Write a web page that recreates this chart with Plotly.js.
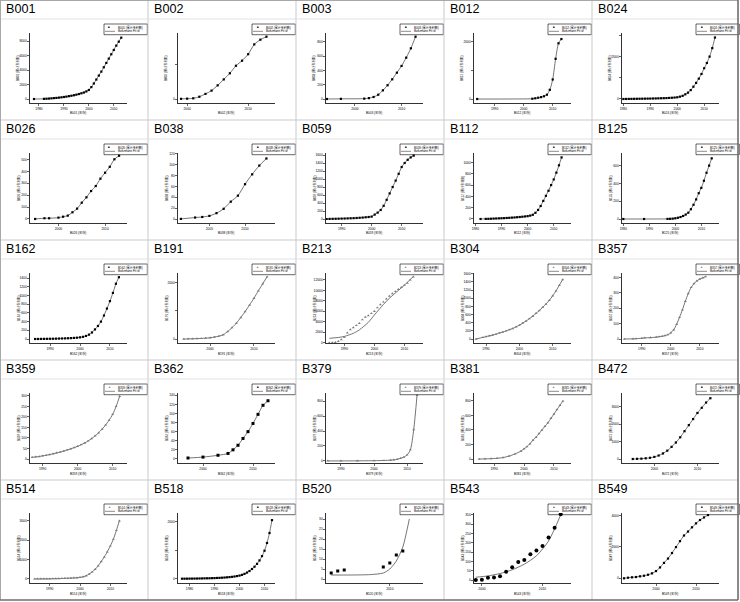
<!DOCTYPE html>
<html><head><meta charset="utf-8">
<script src="https://cdn.plot.ly/plotly-3.0.1.min.js"></script>
<style>html,body{margin:0;padding:0;background:#fff}#chart{width:740px;height:602px}</style>
</head><body><div id="chart"></div>
<script>
// ---------- panel names ----------
const names = ["B001","B002","B003","B012","B024","B026","B038","B059","B112","B125","B162","B191","B213","B304","B357","B359","B362","B379","B381","B472","B514","B518","B520","B543","B549"];
const yTitleSuffix = " (累计专利数)";
const xTitleSuffix = " (年份)";
const fitLabel = "Boltzmann Fit of";

// ---------- data ----------
const B001_x = [1978,1982,1983,1984,1985,1986,1987,1988,1989,1990,1991,1992,1993,1994,1995,1996,1997,1998,1999,2000,2001,2002,2003,2004,2005,2006,2007,2008,2009,2010,2011,2012,2013];
const B001_y = [0,20,40,60,90,120,150,190,230,280,330,390,450,520,600,690,790,900,1050,1250,1650,2150,2700,3250,3800,4400,5000,5600,6200,6800,7400,7950,8500];
const B001_xt = [1980,1990,2000,2010]; const B001_yt = [0,2000,4000,6000,8000];

const B002_x = [1999,2000,2001,2002,2003,2004,2005,2006,2007,2008,2009,2010,2011,2012,2013];
const B002_y = [5,10,20,65,145,240,390,560,735,950,1095,1280,1560,1695,1780];
const B002_xt = [2000,2010]; const B002_yt = [0,1000]; const B002_yl = ["0",""];

const B003_x = [1994,1997,2002,2003,2004,2005,2006,2007,2008,2009,2010,2011,2012,2013];
const B003_y = [0,2,5,12,28,60,121,192,275,368,462,578,709,871];
const B003_xt = [2000,2010]; const B003_yt = [0,200,400,600,800];

const B012_x = [1984,2003,2004,2005,2006,2007,2008,2009,2010,2011,2012,2013];
const B012_y = [0,10,25,45,65,95,150,320,680,1400,1940,2090];
const B012_xt = [1990,2000,2010]; const B012_yt = [0,1000,2000]; const B012_yl = ["0","","2000"];

const B024_x = [1980,1981,1982,1983,1984,1985,1986,1987,1988,1989,1990,1991,1992,1993,1994,1995,1996,1997,1998,1999,2000,2001,2002,2003,2004,2005,2006,2007,2008,2009,2010,2011,2012,2013,2014];
const B024_y = [0,2,4,6,8,10,12,14,16,18,20,23,26,30,34,38,43,50,58,68,80,110,150,220,300,420,580,760,960,1180,1450,1700,2000,2400,2900];
const B024_xt = [1980,1990,2000,2010]; const B024_yt = [0,1000,2000,3000]; const B024_yl = ["0","","2000",""];

const B026_x = [1995,1997,1998,2000,2001,2002,2003,2004,2005,2006,2007,2008,2009,2010,2011,2012,2013];
const B026_y = [0,6,6,11,19,28,56,87,137,182,235,277,339,389,439,502,532];
const B026_xt = [2000,2010]; const B026_yt = [0,100,200,300,400,500];

const B038_x = [2001,2003,2004,2005,2006,2007,2008,2009,2010,2011,2012,2013];
const B038_y = [0.5,3,4,6,11,19,32,43,64,82,98,111];
const B038_xt = [2005,2010]; const B038_yt = [0,20,40,60,80,100,120];

const B059_x = [1985,1986,1987,1988,1989,1990,1991,1992,1993,1994,1995,1996,1997,1998,1999,2000,2001,2002,2003,2004,2005,2006,2007,2008,2009,2010,2011,2012,2013,2014];
const B059_y = [0,2,4,6,8,10,12,15,18,21,25,30,36,43,50,60,110,160,225,330,480,640,800,960,1130,1300,1400,1480,1540,1585];
const B059_xt = [1990,2000,2010]; const B059_yt = [0,200,400,600,800,1000,1200,1400,1600];

const B112_x = [1982,1984,1985,1986,1987,1988,1989,1990,1991,1992,1993,1994,1995,1996,1997,1998,1999,2000,2001,2002,2003,2004,2005,2006,2007,2008,2009,2010,2011,2012,2013];
const B112_y = [0,2,3,5,7,9,11,13,15,18,21,24,27,31,35,40,45,50,60,75,110,160,230,320,410,500,600,700,820,950,1090];
const B112_xt = [1980,1990,2000,2010]; const B112_yt = [0,200,400,600,800,1000];

const B125_x = [1980,1988,1997,1998,1999,2000,2001,2002,2003,2004,2005,2006,2007,2008,2009,2010,2011,2012,2013,2014];
const B125_y = [0,0,1,2,4,8,14,22,34,50,71,110,160,220,290,350,430,520,600,682];
const B125_xt = [1980,1990,2000,2010]; const B125_yt = [0,200,400,600];

const B162_x = [1985,1986,1987,1988,1989,1990,1991,1992,1993,1994,1995,1996,1997,1998,1999,2000,2001,2002,2003,2004,2005,2006,2007,2008,2009,2010,2011,2012,2013];
const B162_y = [0,1,2,3,4,5,6,8,10,12,14,17,20,25,30,38,50,70,100,150,220,300,400,540,700,870,1060,1270,1420];
const B162_xt = [1990,2000,2010]; const B162_yt = [0,200,400,600,800,1000,1200,1400];

const B191_x = [1994,1995,1996,1997,1998,1999,2000,2001,2002,2003,2004,2005,2006,2007,2008,2009,2010,2011,2012,2013];
const B191_y = [0,5,10,15,20,30,45,70,100,150,260,400,560,760,970,1200,1440,1700,1950,2200];
const B191_xt = [2000,2010]; const B191_yt = [0,1000,2000]; const B191_yl = ["0","","2000"];

const B213_x = [1985,1986,1987,1988,1989,1990,1991,1992,1993,1994,1995,1996,1997,1998,1999,2000,2001,2002,2003,2004,2005,2006,2007,2008,2009,2010,2011,2012,2013];
const B213_y = [0,20,80,250,600,1000,1900,2500,2900,3300,3700,4400,4900,5200,5600,6000,6700,7300,7800,8400,8900,9400,9800,10200,10600,11000,11400,12000,12600];
const B213_fx = [1985,1988,1990,1993,1995,1998,2000,2003,2005,2008,2010,2013];
const B213_fy = [840,1000,1200,1800,2450,3900,5300,7300,8500,10000,11000,12700];
const B213_xt = [1990,2000,2010]; const B213_yt = [0,2000,4000,6000,8000,10000,12000];

const B304_x = [1987,1989,1990,1991,1992,1993,1994,1995,1996,1997,1998,1999,2000,2001,2002,2003,2004,2005,2006,2007,2008,2009,2010,2011,2012,2013];
const B304_y = [0,40,60,80,100,120,150,170,200,230,260,300,340,390,440,500,560,630,700,780,860,950,1060,1180,1320,1460];
const B304_xt = [1990,2000,2010]; const B304_yt = [0,200,400,600,800,1000,1200,1400,1600];

const B357_x = [1984,1987,1988,1990,1991,1993,1995,1996,1997,1998,1999,2000,2001,2002,2003,2004,2005,2006,2007,2008,2009,2010,2011,2012];
const B357_y = [0,1,2,5,7,9,12,15,18,22,28,40,60,95,140,190,245,295,335,360,378,390,398,405];
const B357_xt = [1990,2000,2010]; const B357_yt = [0,100,200,300,400];

const B359_x = [1987,1988,1989,1990,1991,1992,1993,1994,1995,1996,1997,1998,1999,2000,2001,2002,2003,2004,2005,2006,2007,2008,2009,2010,2011,2012];
const B359_y = [8,10,12,15,18,21,25,29,33,38,43,48,54,60,68,76,86,97,110,125,142,162,185,212,250,298];
const B359_xt = [1990,2000,2010]; const B359_yt = [0,50,100,150,200,250,300];

const B362_x = [1997,2000,2003,2005,2006,2007,2008,2009,2010,2011,2012,2013];
const B362_y = [2,4,8,12,20,30,45,60,78,98,118,128];
const B362_xt = [2000,2010]; const B362_yt = [0,20,40,60,80,100,120,140];

const B379_x = [1986,1990,1995,2000,2003,2005,2006,2007,2008,2009,2010,2011,2012,2013];
const B379_y = [0,0,1,3,6,10,15,22,35,50,80,150,420,880];
const B379_xt = [1990,2000,2010]; const B379_yt = [0,200,400,600,800];

const B381_x = [1985,1987,1989,1991,1993,1995,1997,1999,2000,2001,2002,2003,2004,2005,2006,2007,2008,2009,2010,2011,2012,2013];
const B381_y = [0,2,5,10,20,40,70,110,140,170,210,260,300,350,400,450,500,560,620,680,740,800];
const B381_xt = [1990,2000,2010]; const B381_yt = [0,200,400,600,800];

const B472_x = [1995,1996,1997,1998,1999,2000,2001,2002,2003,2004,2005,2006,2007,2008,2009,2010,2011,2012,2013];
const B472_y = [0,10,20,40,70,120,200,320,480,700,950,1250,1600,1950,2300,2650,2950,3250,3500];
const B472_xt = [2000,2010]; const B472_yt = [0,1000,2000,3000];

const B514_x = [1985,1986,1987,1988,1989,1990,1991,1992,1993,1994,1995,1996,1997,1998,1999,2000,2001,2002,2003,2004,2005,2006,2007,2008,2009,2010,2011,2012,2013];
const B514_y = [0,2,4,6,8,10,13,16,20,25,30,36,43,52,62,80,110,160,250,360,500,680,900,1130,1400,1700,2050,2500,3000];
const B514_xt = [1990,2000,2010]; const B514_yt = [0,1000,2000,3000];

const B518_x = [1977,1978,1979,1980,1981,1982,1983,1984,1985,1986,1987,1988,1989,1990,1991,1992,1993,1994,1995,1996,1997,1998,1999,2000,2001,2002,2003,2004,2005,2006,2007,2008,2009,2010,2011,2012,2013];
const B518_y = [0,1,2,3,4,5,6,8,10,12,14,16,19,22,26,30,35,41,48,56,66,78,92,110,135,170,215,270,340,420,520,640,790,980,1250,1600,2050];
const B518_xt = [1980,1990,2000,2010]; const B518_yt = [0,1000,2000]; const B518_yl = ["0","","2000"];

const B520_x = [2001,2002,2003,2009,2010,2011,2012];
const B520_y = [3,4,4.5,6,8,12,14];
const B520_fx = [2001,2004,2007,2009,2010,2011,2012,2013];
const B520_fy = [2,2,2.2,3,5,9,16,30];
const B520_xt = [2000,2010]; const B520_yt = [0,5,10,15,20,25,30];

const B543_x = [1999,2000,2001,2002,2003,2004,2005,2006,2007,2008,2009,2010,2011,2012,2013];
const B543_y = [0,2,12,14,20,45,68,97,107,138,158,183,229,281,353];
const B543_fx = [1999,2001,2003,2005,2007,2009,2011,2013];
const B543_fy = [15,22,35,55,85,130,210,350];
const B543_xt = [2000,2010]; const B543_yt = [0,50,100,150,200,250,300,350];

const B549_x = [1992,1993,1994,1995,1996,1997,1998,1999,2000,2001,2002,2003,2004,2005,2006,2007,2008,2009,2010,2011,2012,2013];
const B549_y = [0,38,63,82,126,164,227,315,461,694,984,1262,1615,1994,2372,2732,2984,3256,3508,3722,3886,4038];
const B549_xt = [2000,2010]; const B549_yt = [0,2000,4000];

// ---------- tables built from the arrays ----------
const series = {
  B001:[B001_x,B001_y,B001_xt,B001_yt], B002:[B002_x,B002_y,B002_xt,B002_yt,B002_yl],
  B003:[B003_x,B003_y,B003_xt,B003_yt], B012:[B012_x,B012_y,B012_xt,B012_yt,B012_yl],
  B024:[B024_x,B024_y,B024_xt,B024_yt,B024_yl], B026:[B026_x,B026_y,B026_xt,B026_yt],
  B038:[B038_x,B038_y,B038_xt,B038_yt], B059:[B059_x,B059_y,B059_xt,B059_yt],
  B112:[B112_x,B112_y,B112_xt,B112_yt], B125:[B125_x,B125_y,B125_xt,B125_yt],
  B162:[B162_x,B162_y,B162_xt,B162_yt], B191:[B191_x,B191_y,B191_xt,B191_yt,B191_yl],
  B213:[B213_x,B213_y,B213_xt,B213_yt], B304:[B304_x,B304_y,B304_xt,B304_yt],
  B357:[B357_x,B357_y,B357_xt,B357_yt], B359:[B359_x,B359_y,B359_xt,B359_yt],
  B362:[B362_x,B362_y,B362_xt,B362_yt], B379:[B379_x,B379_y,B379_xt,B379_yt],
  B381:[B381_x,B381_y,B381_xt,B381_yt], B472:[B472_x,B472_y,B472_xt,B472_yt],
  B514:[B514_x,B514_y,B514_xt,B514_yt], B518:[B518_x,B518_y,B518_xt,B518_yt,B518_yl],
  B520:[B520_x,B520_y,B520_xt,B520_yt], B543:[B543_x,B543_y,B543_xt,B543_yt],
  B549:[B549_x,B549_y,B549_xt,B549_yt]
};
const fits = { B213:[B213_fx,B213_fy], B520:[B520_fx,B520_fy], B543:[B543_fx,B543_fy] };

// view settings: axis ranges and marker style (k=black square, K=big black square, c=black circle, g=gray)
const views = {
  B001:{xr:[1976.4,2015.3],yr:[-555,9150],m:'k'}, B002:{xr:[1998.5,2014.4],yr:[-114,1886],m:'k'},
  B003:{xr:[1993.8,2014.6],yr:[-56,923],m:'k'},   B012:{xr:[1982.9,2016.3],yr:[-139,2300],m:'k'},
  B024:{xr:[1979.5,2015.5],yr:[-189,3113],m:'k'}, B026:{xr:[1993.9,2014.7],yr:[-34,555],m:'k'},
  B038:{xr:[2000.6,2014.2],yr:[-7,121],m:'k'},    B059:{xr:[1984.8,2017.1],yr:[-100,1650],m:'k'},
  B112:{xr:[1979.5,2016.6],yr:[-71,1168],m:'k'},  B125:{xr:[1979.5,2016.8],yr:[-45,742],m:'k'},
  B162:{xr:[1983.3,2015.7],yr:[-92,1517],m:'k'},  B191:{xr:[1992.7,2014.8],yr:[-141,2332],m:'g'},
  B213:{xr:[1983.9,2016.2],yr:[-57,13333],m:'g'}, B304:{xr:[1986.4,2015.5],yr:[-96,1620],m:'g'},
  B357:{xr:[1983.2,2016.6],yr:[-26,429],m:'g'},   B359:{xr:[1986.4,2014.1],yr:[-19,314],m:'g'},
  B362:{xr:[1995,2014.4],yr:[-9,145],m:'K'},      B379:{xr:[1985.5,2014.8],yr:[-28,910],m:'g'},
  B381:{xr:[1983.3,2015.7],yr:[-55,910],m:'g'},   B472:{xr:[1992.5,2015],yr:[-230,3800],m:'k'},
  B514:{xr:[1983.5,2015.5],yr:[-210,3400],m:'g'}, B518:{xr:[1975.4,2014.2],yr:[-150,2300],m:'k'},
  B520:{xr:[2000.2,2015.1],yr:[-2,33],m:'K'},     B543:{xr:[1998.7,2014.7],yr:[-16,360],m:'c'},
  B549:{xr:[1991.5,2015.75],yr:[-300,4170],m:'k'}
};

// ---------- build figure ----------
const W=740,H=602,CW=148,CH=120;
const PX = p => p/W, PY = p => 1-p/H;
const FONT = 'Liberation Sans, Arial, Noto Sans CJK SC, sans-serif';
const traces=[], annotations=[], shapes=[];
const layout = {width:W,height:H,margin:{l:0,r:0,t:0,b:0,pad:0},paper_bgcolor:'#ffffff',plot_bgcolor:'rgba(0,0,0,0)',
  showlegend:false,font:{family:FONT,color:'#000'},hovermode:false};

const mstyle = {
  k:{symbol:'square',size:2.2,color:'#000',glyph:'■',gc:'#000'},
  K:{symbol:'square',size:3.0,color:'#000',glyph:'■',gc:'#000'},
  c:{symbol:'circle',size:4.0,color:'#000',glyph:'●',gc:'#000'},
  g:{symbol:'triangle-up',size:2.6,color:'#7a7a7a',glyph:'▲',gc:'#7a7a7a'}
};
const line = (x0,y0,x1,y1,color,w)=>({type:'line',xref:'paper',yref:'paper',x0:PX(x0),y0:PY(y0),x1:PX(x1),y1:PY(y1),line:{color:color,width:w}});

names.forEach((nm,i)=>{
  const r=Math.floor(i/5), c=i%5, x0=c*CW, y0=r*CH;
  const k = i===0?'':String(i+1);
  const s = series[nm], v = views[nm], ms = mstyle[v.m];
  const yl = s[4] || s[3].map(String);
  const common = {showline:true,linecolor:'#000',linewidth:0.8,ticks:'outside',ticklen:1.8,tickwidth:0.6,tickcolor:'#000',
    tickfont:{size:3.3,family:FONT,color:'#000'},showgrid:false,zeroline:false,tickmode:'array',fixedrange:true,automargin:false};
  layout['xaxis'+k] = Object.assign({},common,{domain:[PX(x0+30),PX(x0+127)],anchor:'y'+k,range:v.xr,tickvals:s[2],ticktext:s[2].map(String)});
  layout['yaxis'+k] = Object.assign({},common,{domain:[PY(y0+103),PY(y0+33)],anchor:'x'+k,range:v.yr,tickvals:s[3],ticktext:yl});
  // fit line
  const f = fits[nm] || [s[0],s[1]];
  traces.push({x:f[0],y:f[1],xaxis:'x'+k,yaxis:'y'+k,type:'scatter',mode:'lines',line:{color:'#3a3a3a',width:0.7,shape:'spline',smoothing:0.7}});
  // data points
  traces.push({x:s[0],y:s[1],xaxis:'x'+k,yaxis:'y'+k,type:'scatter',mode:'markers',
    marker:{symbol:ms.symbol,size:ms.size,color:ms.color,line:{width:0}}});
  // header label
  annotations.push({xref:'paper',yref:'paper',x:PX(x0+3.5),y:PY(y0+8.8),text:nm,showarrow:false,xanchor:'left',yanchor:'middle',
    font:{size:12.6,family:FONT,color:'#000'}});
  // axis titles
  annotations.push({xref:'paper',yref:'paper',x:PX(x0+78),y:PY(y0+113),text:nm+xTitleSuffix,showarrow:false,xanchor:'center',yanchor:'middle',font:{size:3.1,family:FONT}});
  annotations.push({xref:'paper',yref:'paper',x:PX(x0+18),y:PY(y0+68),text:nm+yTitleSuffix,showarrow:false,textangle:-90,xanchor:'center',yanchor:'middle',font:{size:3.1,family:FONT}});
  // legend box
  shapes.push({type:'rect',xref:'paper',yref:'paper',x0:PX(x0+104),y0:PY(y0+34.7),x1:PX(x0+147.3),y1:PY(y0+24),line:{color:'#000',width:0.6},fillcolor:'rgba(255,255,255,0)'});
  annotations.push({xref:'paper',yref:'paper',x:PX(x0+109.5),y:PY(y0+27),text:ms.glyph,showarrow:false,xanchor:'center',yanchor:'middle',font:{size:3,color:ms.gc}});
  shapes.push(line(x0+105,y0+31.3,x0+115,y0+31.3,'#3a3a3a',0.6));
  annotations.push({xref:'paper',yref:'paper',x:PX(x0+116.3),y:PY(y0+27),text:nm+yTitleSuffix,showarrow:false,xanchor:'left',yanchor:'middle',font:{size:3,family:FONT}});
  annotations.push({xref:'paper',yref:'paper',x:PX(x0+116.3),y:PY(y0+31.3),text:fitLabel,showarrow:false,xanchor:'left',yanchor:'middle',font:{size:3,family:FONT}});
  // header separator
  shapes.push(line(x0+0.5,y0+19,x0+CW-0.5,y0+19,'#e2e2e2',1));
});

// cell grid
[148,296,444,592].forEach(x=>shapes.push(line(x,0,x,600,'#c9c9c9',1)));
[120,240,360,480].forEach(y=>shapes.push(line(0,y,738,y,'#c9c9c9',1)));
shapes.push(line(0.5,0,0.5,600,'#a8a8a8',1));
shapes.push(line(0,0.5,738,0.5,'#a8a8a8',1));
shapes.push(line(738,0,738,600,'#6e6e6e',1.6));
shapes.push(line(0,600,738,600,'#6e6e6e',1.6));

layout.annotations = annotations;
layout.shapes = shapes;
Plotly.newPlot('chart', traces, layout, {staticPlot:true,displayModeBar:false});
</script>
</body></html>
